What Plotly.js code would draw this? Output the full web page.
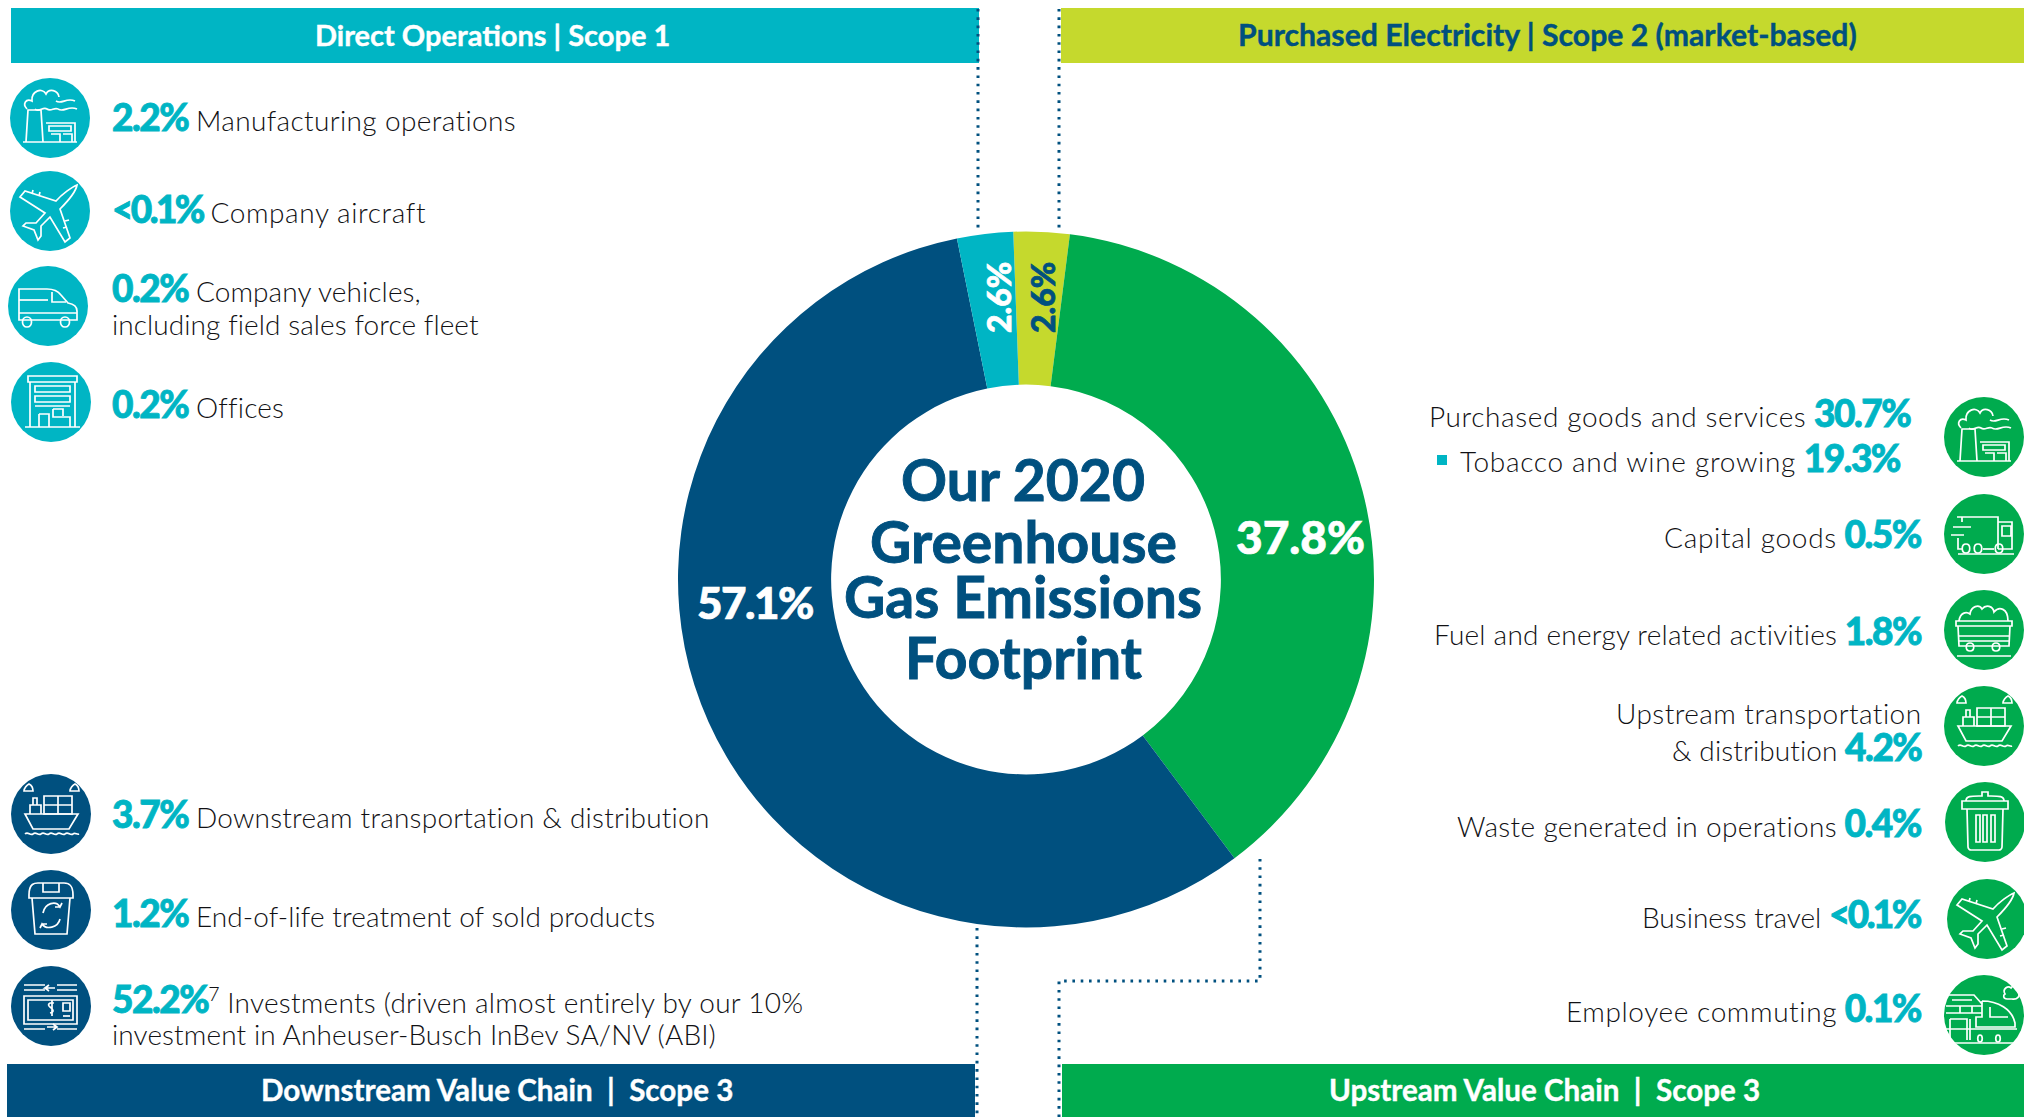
<!DOCTYPE html>
<html><head><meta charset="utf-8">
<script src="https://cdn.plot.ly/plotly-3.0.1.min.js"></script>
<style>html,body{margin:0;padding:0;background:#fff}#chart{width:2024px;height:1117px}</style>
</head><body><div id="chart"></div>
<script>
// ---------- data ----------
const sliceLabels = ['Purchased Electricity','Upstream Value Chain','Downstream Value Chain','Direct Operations'];
const sliceValues = [2.6, 37.8, 57.1, 2.6];
const sliceColors = ['#C5D92D','#00AB4E','#00507F','#00B5C4'];
const sliceTextColors = ['#00507F','#FFFFFF','#FFFFFF','#FFFFFF'];

const headerTexts = ['Direct Operations | Scope 1','Purchased Electricity | Scope 2 (market-based)','Downstream Value Chain  |  Scope 3','Upstream Value Chain  |  Scope 3'];
const centerLines = ['Our 2020','Greenhouse','Gas Emissions','Footprint'];

const scope1Pct = ['2.2%','&lt;0.1%','0.2%','0.2%'];
const scope1Txt = ['Manufacturing operations','Company aircraft','Company vehicles,','Offices'];
const scope1Extra = 'including field sales force fleet';
const downPct = ['3.7%','1.2%','52.2%'];
const downTxt = ['Downstream transportation &amp; distribution','End-of-life treatment of sold products','Investments (driven almost entirely by our 10%'];
const downExtra = 'investment in Anheuser-Busch InBev SA/NV (ABI)';
const upPct = ['30.7%','19.3%','0.5%','1.8%','4.2%','0.4%','&lt;0.1%','0.1%'];
const upTxt = ['Purchased goods and services','Tobacco and wine growing','Capital goods','Fuel and energy related activities','&amp; distribution','Waste generated in operations','Business travel','Employee commuting'];
const upExtra = 'Upstream transportation';

// ---------- helpers ----------
const W = 2024, H = 1117;
const TEAL = '#00B5C4', NAVY = '#00507F', GREEN = '#00AB4E', LIME = '#C5D92D';
const px = x => x / W, py = y => 1 - y / H;
const BODY = 'Lato';
const heavy = (t,c,w) => `<span style="stroke:${c};stroke-width:${w}px">${t}</span>`;
const num = t => `<span style="color:${TEAL};stroke:${TEAL};stroke-width:0.8px;font-weight:900;font-size:37px;letter-spacing:${t.startsWith('&lt;')?-2.6:-1.5}px">${t}</span>`;
const track = (t,s) => `<span style="letter-spacing:${s}px">${t}</span>`;

const shapes = [], annotations = [];
function rect(x0,y0,x1,y1,c){shapes.push({type:'rect',xref:'paper',yref:'paper',x0:px(x0),x1:px(x1),y0:py(y0),y1:py(y1),fillcolor:c,line:{width:0},layer:'above'});}
function dotted(pts){
  const d = pts.map((p,i)=>(i?'L':'M')+px(p[0])+','+py(p[1])).join(' ');
  shapes.push({type:'path',xref:'paper',yref:'paper',path:d,line:{color:NAVY,width:3,dash:'2.6px,5.7px'},fillcolor:'rgba(0,0,0,0)',layer:'above'});
}
function disc(cx,cy,c,r=40){shapes.push({type:'circle',xref:'paper',yref:'paper',x0:px(cx-r),x1:px(cx+r),y0:py(cy-r),y1:py(cy+r),fillcolor:c,line:{width:0},layer:'above'});}
function strokes(cx,cy,paths,w=1.7){
  paths.forEach(s=>{
    let i=0;
    const d=s.replace(/-?\d+(\.\d+)?/g,m=>{const v=parseFloat(m);const o=(i++%2===0)?px(cx+v):py(cy+v);return o.toFixed(6);});
    shapes.push({type:'path',xref:'paper',yref:'paper',path:d,line:{color:'#fff',width:w},fillcolor:'rgba(0,0,0,0)',layer:'above'});
  });
}
function text(x,y,html,anchor,opts={}){
  annotations.push(Object.assign({xref:'paper',yref:'paper',x:px(x),y:py(y),text:html,showarrow:false,xanchor:anchor,yanchor:'middle',align:anchor,
    font:{family:BODY,size:28,color:'#111114',weight:300},borderpad:0,borderwidth:0},opts));
}

// ---------- icons (local px around disc centre) ----------
const icons = {
 factory:['M-24,24 L-22,-8 L-9,-8 L-7,24','M-27,24 L27,24','M-4,5 L25,5 L25,24','M-1,8 L21,8 L21,13 L-1,13 Z','M1,16 L10,16 L10,24 M13,16 L22,16 L22,24',
   'M-23,-9 C-28,-14 -24,-20 -18,-17 C-19,-27 -8,-31 -4,-24 C-1,-30 8,-28 9,-21','M-15,-9 C-11,-5 -7,-12 -3,-9 C1,-6 4,-11 8,-9','M6,-17 C12,-13 16,-21 25,-17','M8,-9 C14,-5 18,-13 27,-9'],
 plane:['M27,-26 C22,-24 12,-17 6,-10 L-25,-20 L-30,-14 L-5,2 L-14,12 L-24,12 L-27,15 L-16,19 L-12,29 L-9,25 L-9,15 L0,6 L15,31 L20,27 L10,-2 C18,-10 26,-20 27,-26 Z','M-18,-17 L-17,-21 M-11,-15 L-10,-19','M15,10 L19,9 M13,17 L17,16'],
 van:['M-29,-17 L-1,-17 C5,-17 10,-15 13,-11 L20,-3 C26,-2 29,1 29,5 L29,14 L-29,14 Z','M4,-14 L4,-4 L18,-4','M-29,-6 L0,-6','M-29,7 L29,7','M-21,21 C-15,21 -15,11 -21,11 C-27,11 -27,21 -21,21 Z','M17,21 C23,21 23,11 17,11 C11,11 11,21 17,21 Z'],
 building:['M-23,-26 L26,-26 L26,-20 L-23,-20 Z','M-21,-20 L-21,25 M24,-20 L24,25','M-16,-16 L19,-16 L19,-10 L-16,-10 Z','M-16,-6 L19,-6 L19,0 L-16,0 Z','M-16,4 L19,4','M-26,25 L29,25','M-12,12 L-2,12 L-2,25 M-12,12 L-12,25','M2,7 L12,7 L12,14 M2,7 L2,15 L19,15 L19,25'],
 ship:['M-26,0 L27,0 L18,15 L-18,15 Z','M-21,0 L-21,-9 L-10,-9 L-10,0','M-18,-9 L-18,-16 L-14,-16 L-14,-9','M-7,-18 L21,-18 L21,0 L-7,0 Z','M-7,-9 L21,-9 M7,-18 L7,0','M-26,20 C-23,17 -21,22 -18,20 C-15,17 -13,22 -10,20 C-7,17 -5,22 -2,20 C1,17 3,22 6,20 C9,17 11,22 14,20 C17,17 19,22 22,20 C24,18 26,21 28,20','M-27,-23 C-27,-26 -24,-29 -22,-30 C-20,-29 -18,-26 -18,-23 Z','M19,-23 C19,-26 22,-29 24,-30 C26,-29 28,-26 28,-23 Z'],
 recycleBin:['M-22,-15 C-22,-27 -16,-27 -13,-27 L13,-27 C18,-27 22,-25 22,-15 L22,-12 L-22,-12 Z','M-8,-27 L-8,-18 L8,-18 L8,-27','M-19,-12 L-16,24 L16,24 L19,-12','M-8,3 C-6,-7 5,-10 9,-3 L11,-7 M9,-3 L4,-3','M9,9 C7,18 -5,20 -9,14 L-11,18 M-9,14 L-4,14'],
 cash:['M-27,-21 L-6,-21 M6,-21 L26,-21','M-27,-16 L-6,-16 M6,-16 L26,-16','M-27,-10 L26,-10 L26,18 L-27,18 Z','M-23,-6 L22,-6 L22,14 L-23,14 Z','M-27,23 L-6,23 M6,23 L26,23','M4,-18 L-6,-18 L-2,-21 M-6,-18 L-2,-15','M6,21 L-4,21 M2,18 L6,21 L2,24','M3,-3 C-2,-4 -4,-1 -1,1 C2,3 4,6 -1,7 M1,-6 L1,10','M12,-3 L19,-3 L19,5 L12,5 Z','M12,10 L19,10'],
 truck:['M-27,-17 L14,-17 L14,15 M-22,-17 L-22,-12','M14,-12 L28,-12 L28,15 L14,15','M18,-8 L27,-8 L27,2 L18,2 Z','M-31,-7 L-13,-7 M-33,1 L-20,1','M-26,4 L-26,15 L-21,15','M-26,20 L30,20','M-18,19 C-13,19 -13,10 -18,10 C-23,10 -23,19 -18,19 Z','M-6,19 C-1,19 -1,10 -6,10 C-11,10 -11,19 -6,19 Z','M15,19 C20,19 20,10 15,10 C10,10 10,19 15,19 Z','M-1,15 L10,15'],
 coal:['M-28,-9 L28,-9 L28,-4 L-28,-4 Z','M-26,-4 L-25,16 L25,16 L26,-4','M-26,6 L26,6 M-26,11 L26,11','M-25,-9 C-24,-17 -18,-19 -14,-16 C-13,-24 -5,-26 -2,-21 C2,-26 9,-24 10,-18 C15,-24 24,-22 24,-9','M-14,21 C-9,21 -9,13 -14,13 C-19,13 -19,21 -14,21 Z','M12,21 C17,21 17,13 12,13 C7,13 7,21 12,21 Z','M-27,26 L27,26'],
 trash:['M-23,-21 L23,-21 L23,-13 L-23,-13 Z','M-19,-21 C-19,-26 -14,-26 -6,-26 L-3,-26 L-3,-30 L3,-30 L3,-26 L6,-26 C14,-26 19,-26 19,-21','M-18,-13 L-17,25 C-17,27 -15,28 -14,28 L14,28 C15,28 17,27 17,25 L18,-13','M-9,-7 L-9,20 L-5,20 L-5,-7 Z','M-2,-7 L-2,20 L2,20 L2,-7 Z','M6,-7 L6,20 L10,20 L10,-7 Z'],
 train:['M-39,14 L33,14','M-38,-9 L-2,-9 M-38,-2 L-2,-2 M-24,-9 L-24,-2 M-12,-9 L-12,-2','M-36,-20 L-10,-20 L-2,-11 M-32,-15 L-12,-15','M-2,-14 C14,-14 28,-6 31,8 L31,12 C20,12 4,12 -8,12 L-8,2 L-2,2 L-2,-14','M6,-8 L6,2 L24,2','M-34,4 L-17,4 L-17,25 M-34,4 L-34,25 M-14,4 L-14,25','M-38,28 L36,28','M-4,20 C-1,20 -1,27 -4,27 C-7,27 -7,20 -4,20 Z','M14,20 C17,20 17,27 14,27 C11,27 11,20 14,20 Z','M21,-21 C18,-26 24,-30 27,-27 C30,-32 37,-28 34,-23 C37,-19 33,-15 28,-16 L23,-16 C19,-16 19,-20 21,-21 Z']
};

// ---------- page furniture ----------
rect(11,8,979,63,TEAL); rect(1061,8,W,63,LIME); rect(7,1064,975,H,NAVY); rect(1062,1064,W,H,GREEN);
dotted([[978,9],[978,232]]); dotted([[977,928],[977,H]]); dotted([[1059,9],[1059,232]]);
dotted([[1059,H],[1059,981],[1260,981],[1260,858]]);

const HEAD = {family:'Lato',weight:700};
const headPos=[[492,34,29],[1547,34,30.2],[497,1089,29.6],[1544,1089,29.6]], headCol=['#fff',NAVY,'#fff','#fff'];
headerTexts.forEach((t,i)=>{
  const [x,y,s]=headPos[i];
  text(x,y,heavy(t,headCol[i],0.4),'center',{font:{...HEAD,size:s,color:headCol[i]}});
});

// left column, scope 1
const s1Disc=[[50,118],[50,211],[48,306],[51,402]], s1Icon=['factory','plane','van','building'], s1Y=[116.5,209,288,403], s1Track=[0.37,0.6,0.1,0.2];
scope1Pct.forEach((p,i)=>{
  disc(...s1Disc[i],TEAL); strokes(...s1Disc[i],icons[s1Icon[i]]);
  text(112,s1Y[i],num(p)+' '+track(scope1Txt[i],s1Track[i]),'left');
});
text(112,324,track(scope1Extra,0.08),'left');
// left column, downstream
const dDisc=[[51,814],[51,910],[51,1006]], dIcon=['ship','recycleBin','cash'], dY=[813,912,998], dTrack=[0.22,0.1,0.25];
downPct.forEach((p,i)=>{
  disc(...dDisc[i],NAVY); strokes(...dDisc[i],icons[dIcon[i]]);
  const sup = i===2 ? '<sup>7</sup> ' : ' ';
  text(112,dY[i],num(p)+sup+track(downTxt[i],dTrack[i]),'left');
});
text(112,1034,track(downExtra,0.11),'left');
// right column, upstream
const uRight=[1911,1901,1922,1922,1922,1922,1922,1922], uY=[412.5,457,533,630,746,822,913,1007], uTrack=[0.6,0.7,0.7,0.23,0.1,0.35,0,0.6];
upPct.forEach((p,i)=>{ text(uRight[i],uY[i],track(upTxt[i],uTrack[i])+' '+num(p),'right'); });
text(1922,713,track(upExtra,0.45),'right');
const uDisc=[[1984,437],[1984,534],[1984,630],[1984,726],[1985,822],[1987,919],[1984,1015]], uIcon=['factory','truck','coal','ship','trash','plane','train'];
uDisc.forEach((c,i)=>{ disc(...c,GREEN); strokes(...c,icons[uIcon[i]]); });
rect(1437,455,1447,465,TEAL);

// centre title
const cY=[479,541,596,657];
centerLines.forEach((t,i)=>text(1023,cY[i],heavy(t,NAVY,0.9),'center',{font:{family:'Lato',size:57,weight:700,color:NAVY}}));

// slice value labels
const slicePos=[[1042,298,-90,32],[1300,536,0,46],[755,602,0,44],[998,298,-90,32]];
sliceValues.forEach((v,i)=>{
  const [x,y,a,s]=slicePos[i];
  const t=`<span style="stroke:${sliceTextColors[i]};stroke-width:0.7px;letter-spacing:${i===2?-1.5:0}px">${v.toFixed(1)}%</span>`;
  text(x,y,t,'center',{textangle:a,font:{family:'Lato',size:s,weight:900,color:sliceTextColors[i]}});
});

const R=348, CX=1026, CY=579.5;
const data=[{type:'pie',labels:sliceLabels,values:sliceValues,sort:false,direction:'clockwise',rotation:-2.1,hole:0.56,
  marker:{colors:sliceColors,line:{width:0}},textinfo:'none',hoverinfo:'label+value',showlegend:false,
  domain:{x:[(CX-R)/W,(CX+R)/W],y:[1-(CY+R)/H,1-(CY-R)/H]}}];
const layout={width:W,height:H,margin:{l:0,r:0,t:0,b:0,pad:0},paper_bgcolor:'#fff',plot_bgcolor:'#fff',showlegend:false,shapes,annotations,font:{family:'Lato'}};
Plotly.newPlot('chart',data,layout,{displayModeBar:false});
</script></body></html>
